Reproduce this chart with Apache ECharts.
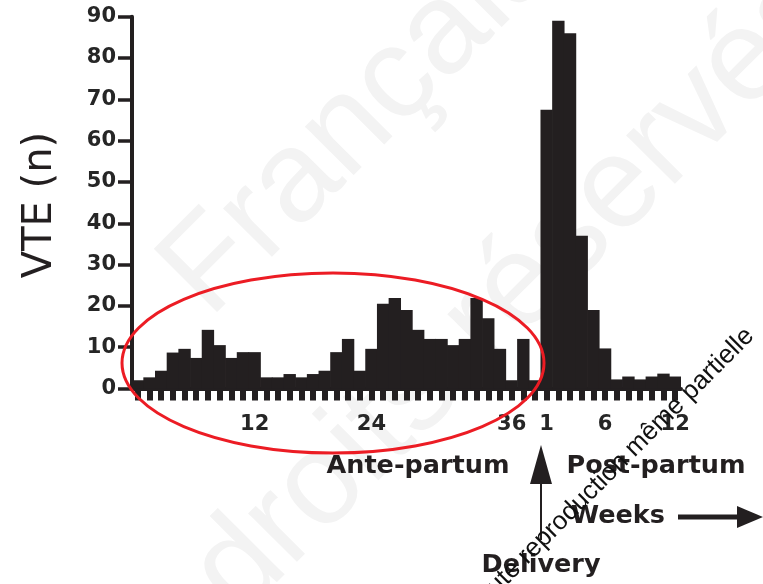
<!DOCTYPE html>
<html>
<head>
<meta charset="utf-8">
<script src="https://cdn.jsdelivr.net/npm/echarts@6/dist/echarts.min.js"></script>
<style>
  html, body { margin: 0; padding: 0; background: #ffffff; }
  #chart { width: 763px; height: 584px; }
</style>
</head>
<body>
<div id="chart"></div>
<script>
// Weekly VTE counts before delivery (35 bars) and after delivery (12 weeks)
const anteCounts = [2.0, 2.7, 4.3, 8.7, 9.6, 7.4, 14.2, 10.5, 7.4, 8.8,
                    8.8, 2.7, 2.7, 3.5, 2.7, 3.5, 4.3, 8.8, 12.0, 4.3,
                    9.6, 20.5, 21.9, 19.0, 14.2, 12.0, 12.0, 10.5, 12.0, 21.9,
                    17.0, 9.6, 2.0, 12.0, 2.0];
const postCounts = [67.5, 89.0, 86.0, 37.0, 19.0, 9.7, 2.2, 2.9, 2.2, 2.9, 3.6, 2.9];

// Week labels shown under the bars ('' = unlabelled bar)
const anteTickLabels = ['', '', '', '', '', '', '', '', '', '', '12', '', '', '', '', '', '', '', '', '',
                        '24', '', '', '', '', '', '', '', '', '', '', '', '36', '', ''];
const postTickLabels = ['1', '', '', '', '', '6', '', '', '', '', '', '12'];

const yMin = 0, yMax = 90, yStep = 10;

const tickLabels = anteTickLabels.concat(postTickLabels);
const categories = anteCounts.map((_, i) => 'A' + (i + 1)).concat(postCounts.map((_, i) => 'P' + (i + 1)));
const counts = anteCounts.concat(postCounts);

const ink = '#231f20';
const numFont = '"DejaVu Sans", sans-serif';

const chart = echarts.init(document.getElementById('chart'), null, { renderer: 'canvas' });

chart.setOption({
  backgroundColor: '#ffffff',
  animation: false,
  grid: { left: 132, right: 82, top: 16.7, bottom: 195.5, containLabel: false },
  xAxis: {
    type: 'category',
    data: categories,
    boundaryGap: true,
    offset: 2,
    axisLine: { show: true, lineStyle: { color: ink, width: 4 } },
    axisTick: { show: true, alignWithLabel: true, interval: 0, length: 12, lineStyle: { color: ink, width: 6 } },
    axisLabel: {
      interval: 0,
      margin: 24,
      color: '#262626',
      fontFamily: numFont,
      fontWeight: 'bold',
      fontSize: 21,
      formatter: (v, i) => tickLabels[i]
    },
    splitLine: { show: false }
  },
  yAxis: {
    type: 'value',
    min: yMin,
    max: yMax,
    interval: yStep,
    axisLine: { show: true, lineStyle: { color: ink, width: 4 } },
    axisTick: { show: true, length: 14, lineStyle: { color: ink, width: 3.5 } },
    axisLabel: {
      margin: 16,
      color: '#262626',
      fontFamily: numFont,
      fontWeight: 'bold',
      fontSize: 21
    },
    splitLine: { show: false }
  },
  series: [{
    type: 'bar',
    data: counts,
    barWidth: '106%',
    itemStyle: { color: ink },
    z: 2
  }],
  graphic: [
    // faint publisher lettering in the background
    {
      type: 'text', z: -10, x: 230, y: 340, rotation: Math.PI / 4,
      style: { text: 'Française', font: '130px "Liberation Sans", sans-serif', fill: '#f3f3f3',
               textAlign: 'left', textVerticalAlign: 'bottom' }
    },
    {
      type: 'text', z: -10, x: 260, y: 640, rotation: Math.PI / 4,
      style: { text: 'droits réservés', font: '130px "Liberation Sans", sans-serif', fill: '#f3f3f3',
               textAlign: 'left', textVerticalAlign: 'bottom' }
    },
    // axis title
    {
      type: 'text', z: 50, x: 41, y: 205, rotation: Math.PI / 2,
      style: { text: 'VTE (n)', font: '40px "DejaVu Sans", sans-serif', fill: ink,
               textAlign: 'center', textVerticalAlign: 'middle' }
    },
    // period captions
    {
      type: 'text', z: 50, x: 418, y: 466,
      style: { text: 'Ante-partum', font: 'bold 25.5px "DejaVu Sans", sans-serif', fill: ink,
               textAlign: 'center', textVerticalAlign: 'middle' }
    },
    {
      type: 'text', z: 50, x: 656, y: 466,
      style: { text: 'Post-partum', font: 'bold 25.5px "DejaVu Sans", sans-serif', fill: ink,
               textAlign: 'center', textVerticalAlign: 'middle' }
    },
    {
      type: 'text', z: 50, x: 618, y: 516,
      style: { text: 'Weeks', font: 'bold 25.5px "DejaVu Sans", sans-serif', fill: ink,
               textAlign: 'center', textVerticalAlign: 'middle' }
    },
    {
      type: 'text', z: 50, x: 541, y: 565,
      style: { text: 'Delivery', font: 'bold 25.5px "DejaVu Sans", sans-serif', fill: ink,
               textAlign: 'center', textVerticalAlign: 'middle' }
    },
    // delivery arrow
    {
      type: 'line', z: 50,
      shape: { x1: 541, y1: 480, x2: 541, y2: 540 },
      style: { stroke: ink, lineWidth: 2 }
    },
    {
      type: 'polygon', z: 50,
      shape: { points: [[541, 445], [530, 484], [552, 484]] },
      style: { fill: ink }
    },
    // time arrow
    {
      type: 'line', z: 50,
      shape: { x1: 678, y1: 517, x2: 742, y2: 517 },
      style: { stroke: ink, lineWidth: 5 }
    },
    {
      type: 'polygon', z: 50,
      shape: { points: [[737, 506], [763, 517], [737, 528]] },
      style: { fill: ink }
    },
    // highlighted ante-partum period
    {
      type: 'ellipse', z: 60,
      shape: { cx: 333, cy: 363, rx: 211, ry: 90 },
      style: { fill: 'none', stroke: '#ec1c24', lineWidth: 3 }
    },
    // copyright notice
    {
      type: 'text', z: 70, x: 611, y: 471, rotation: Math.PI / 4,
      style: { text: 'Toute reproduction même partielle', font: '26px "Liberation Sans", sans-serif', fill: '#111111',
               textAlign: 'center', textVerticalAlign: 'middle' }
    }
  ]
});
</script>
</body>
</html>
